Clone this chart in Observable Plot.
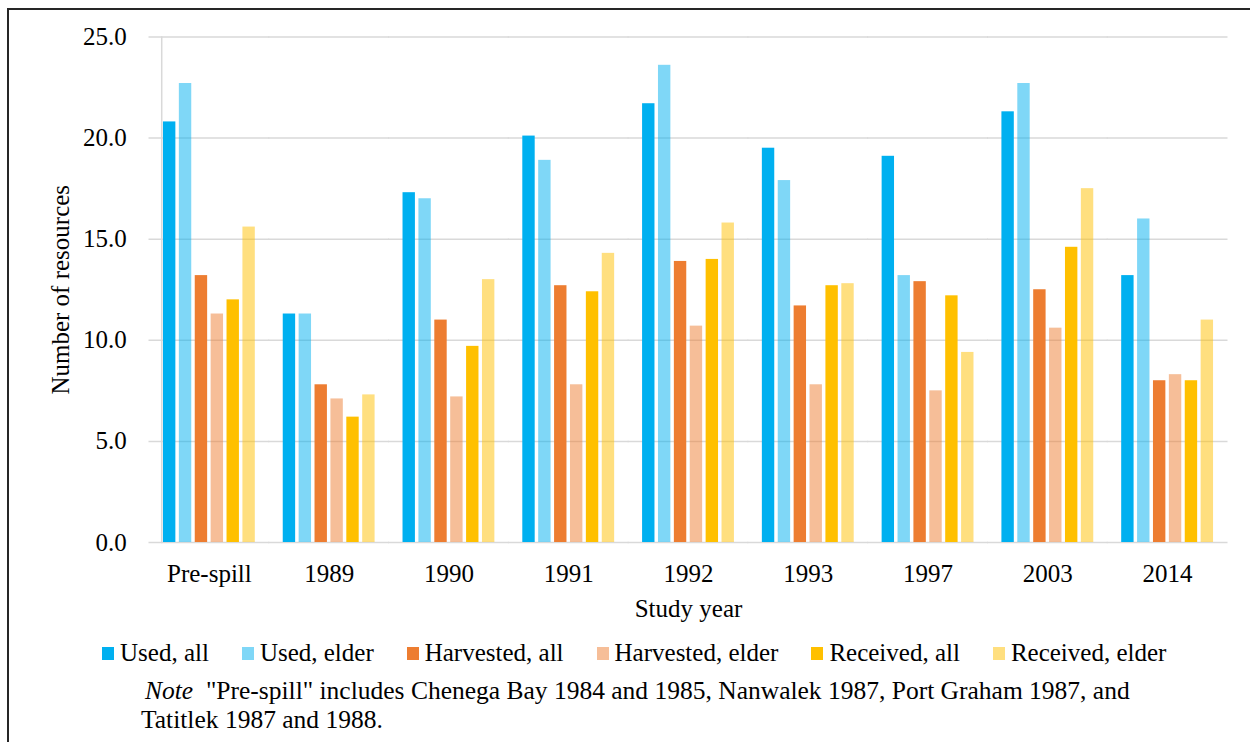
<!DOCTYPE html>
<html>
<head>
<meta charset="utf-8">
<script src="https://cdn.jsdelivr.net/npm/d3@7"></script>
<script src="https://cdn.jsdelivr.net/npm/@observablehq/plot@0.6"></script>
<style>
  html, body { margin: 0; padding: 0; background: #fff; }
  body { position: relative; width: 1250px; height: 742px; overflow: hidden; font-family: "Liberation Serif", "Times New Roman", serif; color: #000; }
  #border { position: absolute; left: 7px; top: 7.5px; width: 1300px; height: 800px; border-top: 2px solid #262626; border-left: 2px solid #262626; }
  #chart { position: absolute; left: 0; top: 0; }
  #legend { position: absolute; left: 102px; top: 638px; display: flex; align-items: center; font-size: 25px; line-height: 29px; white-space: nowrap; }
  #legend .item { display: flex; align-items: center; margin-right: 33px; }
  #legend .sw { width: 12px; height: 13px; margin-right: 6px; margin-top: 2px; }
  #note { position: absolute; left: 141px; top: 676px; font-size: 25.5px; line-height: 29px; white-space: nowrap; }
</style>
</head>
<body>
<div id="border"></div>
<div id="chart"></div>
<div id="legend"></div>
<div id="note"><span style="padding-left:4px"><i>Note</i>&nbsp; "Pre-spill" includes Chenega Bay 1984 and 1985, Nanwalek 1987, Port Graham 1987, and</span><br>Tatitlek 1987 and 1988.</div>
<script>
const years = ["Pre-spill", "1989", "1990", "1991", "1992", "1993", "1997", "2003", "2014"];
const series = ["Used, all", "Used, elder", "Harvested, all", "Harvested, elder", "Received, all", "Received, elder"];
const usedAll        = [20.8, 11.3, 17.3, 20.1, 21.7, 19.5, 19.1, 21.3, 13.2];
const usedElder      = [22.7, 11.3, 17.0, 18.9, 23.6, 17.9, 13.2, 22.7, 16.0];
const harvestedAll   = [13.2,  7.8, 11.0, 12.7, 13.9, 11.7, 12.9, 12.5,  8.0];
const harvestedElder = [11.3,  7.1,  7.2,  7.8, 10.7,  7.8,  7.5, 10.6,  8.3];
const receivedAll    = [12.0,  6.2,  9.7, 12.4, 14.0, 12.7, 12.2, 14.6,  8.0];
const receivedElder  = [15.6,  7.3, 13.0, 14.3, 15.8, 12.8,  9.4, 17.5, 11.0];
const yTicks = [0, 5, 10, 15, 20, 25];
const baseColors = ["#00B0F0", "#00B0F0", "#ED7D31", "#ED7D31", "#FFC000", "#FFC000"];
const opacities = [1, 0.5, 1, 0.5, 1, 0.5];

const seriesValues = [usedAll, usedElder, harvestedAll, harvestedElder, receivedAll, receivedElder];
const rows = [];
series.forEach((s, i) => {
  years.forEach((y, j) => rows.push({year: y, series: s, value: seriesValues[i][j], op: opacities[i]}));
});

const W = 1250, ML = 149, MR = 23;
const fxPadInner = 0.204, fxPadOuter = fxPadInner / 2;
// half of the gap between facet bands, so that per-facet grid rules join into continuous lines
const fxStep = (W - ML - MR) / (years.length - fxPadInner + 2 * fxPadOuter);
const halfGap = fxStep * fxPadInner / 2 + 0.5;

const chart = Plot.plot({
  width: W,
  height: 630,
  marginLeft: ML,
  marginRight: MR,
  marginTop: 36.5,
  marginBottom: 88,
  style: {fontFamily: "'Liberation Serif', 'Times New Roman', serif", fontSize: "25px", color: "#000", background: "transparent", overflow: "visible"},
  fx: {domain: years, round: false, paddingInner: fxPadInner, paddingOuter: fxPadOuter, label: "Study year", labelAnchor: "center", tickSize: 0, tickPadding: 22, labelOffset: 74},
  x: {domain: series, round: false, paddingInner: 0.22, paddingOuter: 0.11, axis: null},
  y: {domain: [0, 25], ticks: yTicks, tickFormat: d => d.toFixed(1), label: "Number of resources", labelArrow: "none", labelAnchor: "center", tickSize: 0, tickPadding: 35, labelOffset: 110},
  color: {domain: series, range: baseColors},
  marks: [
    Plot.ruleY(yTicks, {stroke: "#d9d9d9", strokeWidth: 1.5, insetLeft: -halfGap, insetRight: -halfGap}),
    Plot.frame({anchor: "left", stroke: "#d9d9d9", strokeWidth: 1.5, facet: "super"}),
    Plot.barY(rows, {fx: "year", x: "series", y: "value", fill: "series", fillOpacity: "op"})
  ]
});
document.getElementById("chart").appendChild(chart);

const legend = document.getElementById("legend");
series.forEach((s, i) => {
  const item = document.createElement("div");
  item.className = "item";
  const sw = document.createElement("span");
  sw.className = "sw";
  sw.style.background = baseColors[i];
  sw.style.opacity = opacities[i];
  const t = document.createElement("span");
  t.textContent = s;
  item.appendChild(sw);
  item.appendChild(t);
  legend.appendChild(item);
});
</script>
</body>
</html>
